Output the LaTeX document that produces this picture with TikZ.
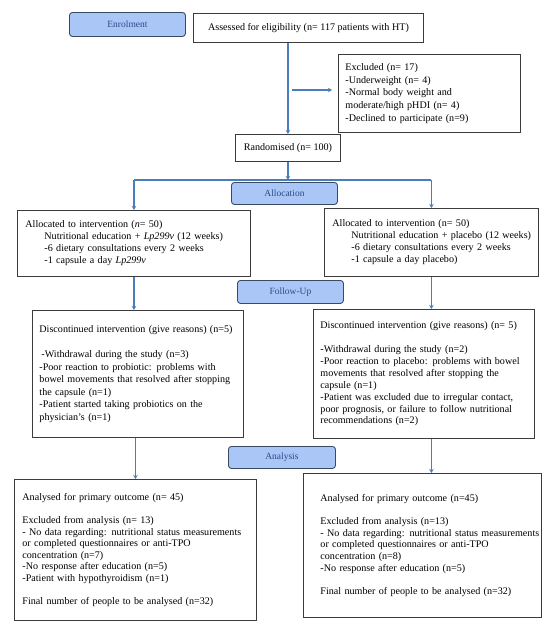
\documentclass[tikz,border=0pt]{standalone}
\usepackage{fontspec}
\setmainfont{Liberation Serif}
\usetikzlibrary{arrows.meta}
\definecolor{arrowblue}{HTML}{4A7EBB}
\definecolor{labfill}{HTML}{A9C6F7}
\definecolor{labborder}{HTML}{3B4A63}
\definecolor{labtext}{HTML}{2E4A86}
\definecolor{boxborder}{HTML}{3C3C3C}
\newcommand{\padl}[1]{\leftskip=#1\relax}
\tikzset{
  box/.style={draw=boxborder, line width=0.9pt, fill=white, anchor=north west,
    align=left, inner sep=0pt, font=\fontsize{10.1}{12}\selectfont},
  lab/.style={draw=labborder, line width=0.9pt, fill=labfill, rounded corners=3pt,
    anchor=north west, inner sep=0pt, text=labtext, font=\fontsize{9.5}{12}\selectfont},
  flow/.style={draw=arrowblue, line width=1.8pt, -{Stealth[length=4pt,width=4.5pt]}},
  flowline/.style={draw=arrowblue, line width=1.8pt},
}
\begin{document}
\begin{tikzpicture}[x=1pt,y=-1pt]
\useasboundingbox (0,0) rectangle (550,630);
% boxes
\node[box, align=center, minimum width=230, minimum height=29] (assess) at (193,13)
  {Assessed for eligibility (n= 117 patients with HT)};
\node[box, minimum width=182, minimum height=78, text width=182,
  font=\fontsize{10.1}{12.8}\selectfont] (excl) at (338,54)
  {\padl{7pt}Excluded (n= 17)\\-Underweight (n= 4)\\-Normal body weight and\\moderate/high pHDI (n= 4)\\-Declined to participate (n=9)\par};
\node[box, align=center, minimum width=105, minimum height=27] (rand) at (235,134)
  {Randomised (n= 100)};
\node[box, minimum width=233, minimum height=66, text width=233] (allocL) at (17,210)
  {\padl{8pt}Allocated to intervention (\textit{n}= 50)\\
  \hspace*{19pt}Nutritional education + \textit{Lp299v} (12 weeks)\\
  \hspace*{19pt}-6 dietary consultations every 2 weeks\\
  \hspace*{19pt}-1 capsule a day \textit{Lp299v}\par\vspace{1pt}};
\node[box, minimum width=214, minimum height=68, text width=214] (allocR) at (324,208)
  {\padl{8pt}Allocated to intervention (n= 50)\\
  \hspace*{19pt}Nutritional education + placebo (12 weeks)\\
  \hspace*{19pt}-6 dietary consultations every 2 weeks\\
  \hspace*{19pt}-1 capsule a day placebo)\par\vspace{3pt}};
\node[box, minimum width=211, minimum height=127, text width=211,
  font=\fontsize{10.1}{12.5}\selectfont] (discL) at (32,310)
  {\padl{7pt}Discontinued intervention (give reasons) (n=5)\\[12.5pt]
  \hspace*{2pt}-Withdrawal during the study (n=3)\\
  -Poor reaction to probiotic: problems with\\
  bowel movements that resolved after stopping\\
  the capsule (n=1)\\
  -Patient started taking probiotics on the\\
  physician's (n=1)\par\vspace{9pt}};
\node[box, minimum width=221, minimum height=129, text width=221,
  font=\fontsize{10.1}{11.9}\selectfont] (discR) at (313,309)
  {\padl{7pt}Discontinued intervention (give reasons) (n= 5)\\[11.9pt]
  -Withdrawal during the study (n=2)\\
  -Poor reaction to placebo: problems with bowel\\
  movements that resolved after stopping the\\
  capsule (n=1)\\
  -Patient was excluded due to irregular contact,\\
  poor prognosis, or failure to follow nutritional\\
  recommendations (n=2)\par\vspace{14pt}};
\node[box, minimum width=242, minimum height=141, text width=242,
  font=\fontsize{10.1}{11.6}\selectfont] (anaL) at (14,479)
  {\padl{8pt}Analysed for primary outcome (n= 45)\\[11.6pt]
  Excluded from analysis (n= 13)\\
  - No data regarding: nutritional status measurements\\
  or completed questionnaires or anti-TPO\\
  concentration (n=7)\\
  -No response after education (n=5)\\
  -Patient with hypothyroidism (n=1)\\[11.6pt]
  Final number of people to be analysed (n=32)\par\vspace{13pt}};
\node[box, minimum width=238, minimum height=144, text width=238,
  font=\fontsize{10.1}{11.6}\selectfont] (anaR) at (303,473)
  {\padl{17pt}Analysed for primary outcome (n=45)\\[11.6pt]
  Excluded from analysis (n=13)\\
  - No data regarding: nutritional status measurements\\
  or completed questionnaires or anti-TPO\\
  concentration (n=8)\\
  -No response after education (n=5)\\[11.6pt]
  Final number of people to be analysed (n=32)\par\vspace{15pt}};
% connectors
\coordinate (exA) at (292,90);
\coordinate (exB) at (332,90);
\coordinate (spl) at (287,180);
\draw[flow] (assess.south -| rand.north) -- (rand.north);
\draw[flow] (exA) -- (exB);
\draw[flow] (rand.south) -- (rand.south |- spl);
\draw[flowline] (allocL.north |- spl) -- (allocR.north |- spl);
\draw[flow] (allocL.north |- spl) -- (allocL.north);
\draw[flow] (allocR.north |- spl) -- (allocR.north);
\draw[flow] (allocL.south) -- (allocL.south |- discL.north);
\draw[flow] (allocR.south) -- (allocR.south |- discR.north);
\draw[flow] (discL.south -| anaL.north) -- (anaL.north);
\draw[flow] (discR.south -| allocR.south) -- (anaR.north -| allocR.south);
% stage labels
\node[lab, minimum width=116, minimum height=24] (enrol) at (69,12) {Enrolment};
\node[lab, minimum width=106, minimum height=22] (alloc) at (231,182) {Allocation};
\node[lab, minimum width=106, minimum height=23] (follow) at (237,280) {Follow-Up};
\node[lab, minimum width=107, minimum height=22] (analysis) at (228,446) {Analysis};
\end{tikzpicture}
\end{document}
